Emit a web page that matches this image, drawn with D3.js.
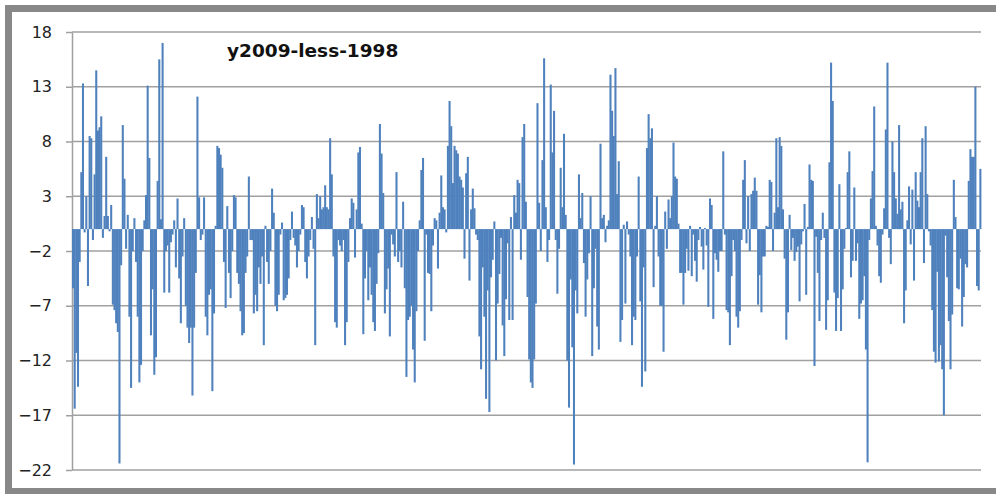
<!DOCTYPE html>
<html>
<head>
<meta charset="utf-8">
<script src="https://cdn.jsdelivr.net/npm/d3@7"></script>
<style>
  body { margin: 0; background: #fff; }
  svg { display: block; }
</style>
</head>
<body>
<div id="chart"></div>
<script>
// chart title and y ticks
var chartTitle = "y2009-less-1998";
var yTicks = [18, 13, 8, 3, -2, -7, -12, -17, -22];

// differences left to right
var diffs = [
  -5.4, -16.4, -11.3, -14.4, -3.0, 5.2, 13.3, -0.3, 3.0, -5.2,
  8.5, 8.3, -1.0, 5.0, 14.5, 9.0, 9.3, 10.3, -0.8, 1.2,
  6.6, 1.2, -0.2, 2.2, -6.9, -7.4, -8.6, -9.4, -21.4, -3.3,
  9.5, 4.6, -1.8, 1.3, -8.0, -14.5, -2.0, 1.0, -3.0, -8.0,
  -14.0, -12.4, -2.0, 0.8, 3.1, 13.1, 6.5, -9.7, -5.5, -13.3,
  -11.7, 4.4, 15.5, 0.9, 17.0, -5.8, -2.0, -1.5, -5.8, -1.2,
  -0.5, 0.8, -3.5, 2.8, -4.5, -8.6, -2.5, 1.0, -7.0, -9.0,
  -10.4, -9.0, -15.2, -9.0, -4.0, 12.1, 2.9, -1.0, -0.5, 2.9,
  -8.0, -9.7, -6.0, -5.5, -14.8, -7.7, 0.3, 7.6, 7.4, 6.8,
  5.6, -3.0, -7.2, 2.1, -4.0, -6.3, -2.0, 3.1, 2.9, -4.0,
  -5.0, -7.5, -9.7, -9.5, -4.0, -2.5, 4.8, -1.0,
  // 250 - 350
  -1.0, -7.7, -6.0, -7.5, -3.5, -5.0, -2.5, -10.6, 0.3, -3.0,
  -5.0, -2.0, 3.7, 1.5, -7.0, -7.5, -6.0, -0.5, 0.6, -6.5,
  -6.3, -6.0, -4.5, -1.0, 1.6, -0.8, -1.5, -3.5, -2.0, -0.5,
  2.2, 2.0, -3.0, -4.5, -2.5, -1.0, 1.1, -1.8, -10.6, 3.2,
  1.0, 3.0, 1.8, 2.0, 4.0, 2.0, 1.8, 8.3, 5.0, -2.5,
  -8.5, -9.0, -1.0, -1.5, -2.0, -1.0, -10.6, -8.5, -3.0, 1.0,
  2.8,
  // 350 - 450
  2.4, -2.6, 1.8, 7.0, 7.5, 0.5, -9.6, -4.5, -2.0, -6.5,
  -3.5, -6.0, -8.5, -9.3, -5.0, -2.2, 9.6, 6.9, 3.3, -7.7,
  -5.5, -3.6, -9.8, -0.5, -1.4, -2.5, 5.2, -3.0, -2.0, -3.5,
  2.5, -5.4, -13.5, -8.3, -8.0, -7.0, -11.0, -14.0, -7.5, -2.0,
  0.8, 5.4, 6.5, -10.2, -0.5, -4.0, -4.1, -7.5, -1.5, 1.0,
  0.8, -3.6, 1.5, 4.9, 2.0, 1.8, -0.3, 7.6, 11.7,
  // 450 - 550
  9.4, 4.2, 7.6, 7.2, 6.9, 4.8, 4.5, 3.8, -2.7, 5.1,
  6.6, -4.7, 1.8, 3.7, 1.9, -0.5, -1.0, -9.8, -12.8, -3.5,
  -8.0, -15.5, -5.6, -16.7, -4.4, -2.8, 0.7, -12.0, -6.8, -4.1,
  -0.8, -8.8, -11.6, -6.4, -1.3, -8.3, 1.1, -8.3, 3.1, 1.5,
  4.5, 4.2, -2.8, 8.4, 9.6, 2.5, -6.2, -11.9, -14.0, -14.5,
  -11.9, -6.8, 11.5, 2.4, -2.0, 6.3, 15.6, 2.0, -3.0,
  // 550 - 650
  -1.0, 13.2, 7.0, 10.8, -1.0, -5.9, -1.8, 5.6, 2.0, 8.7,
  1.3, -12.0, -16.3, -4.6, -10.8, -21.5, -5.6, -7.7, 5.0, 1.0,
  3.3, -3.1, -8.0, -4.6, -2.2, 3.0, -11.6, -5.4, -1.8, -8.9,
  -11.0, 7.8, 1.0, 1.3, -1.2, 0.3, 0.8, 14.1, 10.8, 8.5,
  14.7, 3.2, 6.2, -10.3, -8.3, 0.4, -6.8, 0.7, -0.5, -2.5,
  -10.6, -8.0, -8.3, -2.5, 4.8, -6.6, -14.4, -3.5, -13.0, 7.4,
  10.5,
  // 650 - 750
  8.3, 9.2, -5.3, 0.3, 3.0, -2.5, -7.0, -7.0, -11.2, 1.6,
  -1.8, 2.7, 1.0, 3.0, 7.9, 4.8, 4.6, 0.5, -4.0, -4.0,
  -6.9, -4.0, -1.8, -3.8, 0.3, -4.3, -0.5, -2.9, -4.8, -1.0,
  0.2, -1.6, -3.7, 0.1, -1.5, -7.1, 2.8, 2.2, -8.2, -2.2,
  -2.8, -3.9, -2.0, -2.0, 7.1, -0.5, -7.4, -7.6, -10.6, -4.3,
  -1.0, -2.0, -8.0, -9.0, -7.5, -1.0, 4.5, 6.3, -1.3, 3.0,
  // 750 - 981
  -2.0, 3.2, 3.5, 4.7, 3.5, -6.9, -4.2, -7.6, -2.5, -2.5,
  0.3, 0.2, 4.5, 4.3, -2.0, 1.5, 8.3, 2.0, 8.4, 7.6,
  1.8, -2.7, -10.1, -7.6, 1.3, -1.9, -0.8, -2.9, -2.1, -1.6,
  -6.6, -1.4, -0.2, 2.3, -6.0, 0.2, 5.9, 4.5, 4.4, -12.5,
  -0.7, -4.0, -8.4, -1.0, 1.5, -0.8, -9.2, -6.5, 6.1, 15.2,
  11.7, -5.8, -9.3, -6.3, 4.1, -9.3, -5.5, -1.8, 0.1, 5.2,
  7.1, -4.4, -2.9, 3.8, -2.9, -1.3, -8.2, -6.8, -6.5, -4.3,
  -11.0, -21.3, -1.0, 2.8, 5.3, 11.2, 0.3, -1.5, -4.3, -4.9,
  -0.5, 1.9, 9.1, 15.2, -0.8, -3.2, 8.0, 5.2, 2.8, 1.4,
  9.5, 1.8, 2.5, -8.6, -5.6, 0.8, 3.9, -1.4, 3.6, -4.7,
  5.2, 2.6, 2.0, 5.2, 8.3, -3.1, 9.4, 3.2, -0.2, -1.5,
  -7.4, -11.2, -12.2, -3.9, -12.1, -10.6, -12.8, -17.0, -0.6, -4.4,
  -8.4, -12.8, -7.8, 4.5, 1.1, -5.4, -5.5, -2.7, -8.9, -6.2,
  -3.2, -3.5, 4.4, 7.3, 6.6, 6.6, 13.0, -5.2, -5.6, 5.5
];

var width = 996, height = 494;
var margin = {left: 72, right: 15, top: 32, bottom: 24};

var svg = d3.select("#chart").append("svg")
  .attr("width", width)
  .attr("height", height);

// outer frame
svg.append("rect")
  .attr("x", 8.5).attr("y", 8.5)
  .attr("width", width + 20).attr("height", 483)
  .attr("fill", "#fff")
  .attr("stroke", "#888")
  .attr("stroke-width", 7);

var x = d3.scaleBand()
  .domain(d3.range(diffs.length))
  .range([margin.left, width - margin.right])
  .padding(0);

var y = d3.scaleLinear()
  .domain([-22, 18])
  .range([height - margin.bottom, margin.top]);

// gridlines
svg.append("g")
  .selectAll("line")
  .data(yTicks)
  .join("line")
  .attr("x1", margin.left)
  .attr("x2", width - margin.right)
  .attr("y1", d => y(d))
  .attr("y2", d => y(d))
  .attr("stroke", "#a0a0a0")
  .attr("stroke-width", 1.5);

// y axis
var yAxis = svg.append("g")
  .attr("transform", "translate(" + margin.left + ",0)")
  .call(d3.axisLeft(y).tickValues(yTicks).tickSize(6).tickPadding(14).tickSizeOuter(0));

yAxis.select(".domain").attr("stroke", "#a0a0a0").attr("stroke-width", 1.5);
yAxis.selectAll(".tick line").attr("stroke", "#a0a0a0").attr("stroke-width", 1.5);
yAxis.selectAll(".tick text")
  .attr("fill", "#222")
  .style("font-family", "'DejaVu Sans', sans-serif")
  .style("font-size", "16px");

// bars, a touch wider than the band so neighbours merge like the original
svg.append("g")
  .selectAll("rect")
  .data(diffs)
  .join("rect")
  .attr("x", (d, i) => x(i))
  .attr("width", x.bandwidth() + 0.4)
  .attr("y", d => Math.min(y(d), y(0)))
  .attr("height", d => Math.abs(y(d) - y(0)))
  .attr("fill", "#4f81bd");

// title
svg.append("text")
  .attr("x", 227)
  .attr("y", 56.5)
  .attr("fill", "#111")
  .style("font-family", "'DejaVu Sans', sans-serif")
  .style("font-weight", "bold")
  .style("font-size", "18.5px")
  .text(chartTitle);
</script>
</body>
</html>
